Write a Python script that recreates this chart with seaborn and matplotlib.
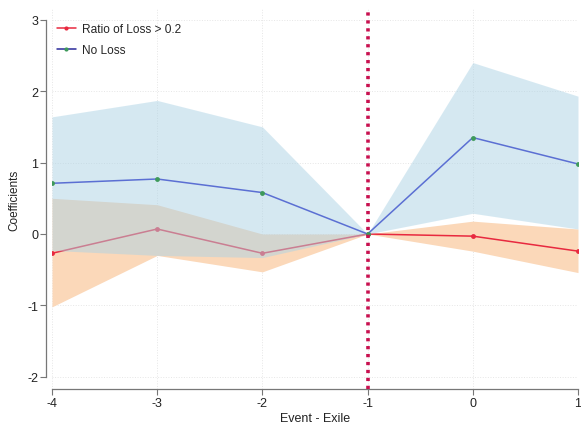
import numpy as np
import pandas as pd
import seaborn as sns
import matplotlib
matplotlib.use("Agg")
import matplotlib.pyplot as plt
from matplotlib.lines import Line2D

# ---- data ----
event = [-4, -3, -2, -1, 0, 1]
loss_coef = [-0.27, 0.07, -0.27, 0.0, -0.03, -0.24]
loss_lo = [-1.02, -0.30, -0.53, 0.0, -0.24, -0.54]
loss_hi = [0.50, 0.41, 0.0, 0.0, 0.18, 0.07]
noloss_coef = [0.71, 0.77, 0.58, 0.0, 1.35, 0.98]
noloss_lo = [-0.23, -0.30, -0.33, 0.0, 0.29, 0.07]
noloss_hi = [1.64, 1.87, 1.50, 0.0, 2.40, 1.93]
labels = ["Ratio of Loss > 0.2", "No Loss"]
yticks = [-2, -1, 0, 1, 2, 3]
xticks = [-4, -3, -2, -1, 0, 1]

df_loss = pd.DataFrame({"event": event, "coef": loss_coef})
df_noloss = pd.DataFrame({"event": event, "coef": noloss_coef})

sns.set_style("white")
plt.rcParams["font.family"] = ["Liberation Sans", "DejaVu Sans"]

fig = plt.figure(figsize=(5.81, 4.31), dpi=100)
ax = fig.add_axes([52 / 581, 41 / 431, 526 / 581, 380 / 431])

# orange band (bottom)
ax.fill_between(event, loss_lo, loss_hi, color="#fbd8b9", linewidth=0, zorder=1)
# red line under the blue band
sns.lineplot(data=df_loss, x="event", y="coef", ax=ax, color="#e8293f", lw=1.1,
             marker="o", markersize=3.5, markeredgewidth=0, zorder=2)
# blue band translucent
ax.fill_between(event, noloss_lo, noloss_hi, color="#add3e5", alpha=0.5,
                linewidth=0, zorder=3)
sns.lineplot(data=df_noloss, x="event", y="coef", ax=ax, color="#5b6fd3", lw=1.1,
             marker="o", markersize=3.5, markerfacecolor="#3e9a5a",
             markeredgewidth=0, zorder=4)

ax.axvline(-1, color="#c8104f", lw=2.6, ls=(0, (0.9, 1.3)), zorder=5)

ax.set_xlim(-4, 1)
ax.set_ylim(-2.17, 3.15)
ax.set_xticks(xticks)
ax.set_yticks(yticks)
ax.set_xticklabels([str(t) for t in xticks])
ax.set_yticklabels([str(t) for t in yticks])

ax.grid(True, color="#e6e6e6", lw=0.7, ls=":")
ax.set_axisbelow(True)

for s in ["top", "right"]:
    ax.spines[s].set_visible(False)
ax.spines["left"].set_position(("outward", 4))
ax.spines["left"].set_bounds(-2, 3)
ax.spines["bottom"].set_bounds(-4, 1)
for s in ["left", "bottom"]:
    ax.spines[s].set_color("#777777")
    ax.spines[s].set_linewidth(0.9)
ax.tick_params(axis="both", which="both", direction="out", length=4, width=0.8,
               color="#777777", labelsize=9, labelcolor="#222222", pad=2,
               left=True, bottom=True)

ax.set_xlabel("Event - Exile", fontsize=9, color="#222222", labelpad=2)
ax.set_ylabel("Coefficients", fontsize=8.5, color="#222222", labelpad=5)

handles = [
    Line2D([0], [0], color="#e8293f", lw=1.1, marker="o", markersize=3,
           markeredgewidth=0),
    Line2D([0], [0], color="#2a2a9a", lw=1.1, marker="o", markersize=3,
           markerfacecolor="#3e9a5a", markeredgewidth=0),
]
ax.legend(handles, labels, loc="upper left", frameon=False, fontsize=8.6,
          handlelength=1.6, handletextpad=0.5, labelspacing=0.75,
          borderaxespad=0.0, bbox_to_anchor=(0.0, 0.975))

fig.savefig("out.png", dpi=100)
